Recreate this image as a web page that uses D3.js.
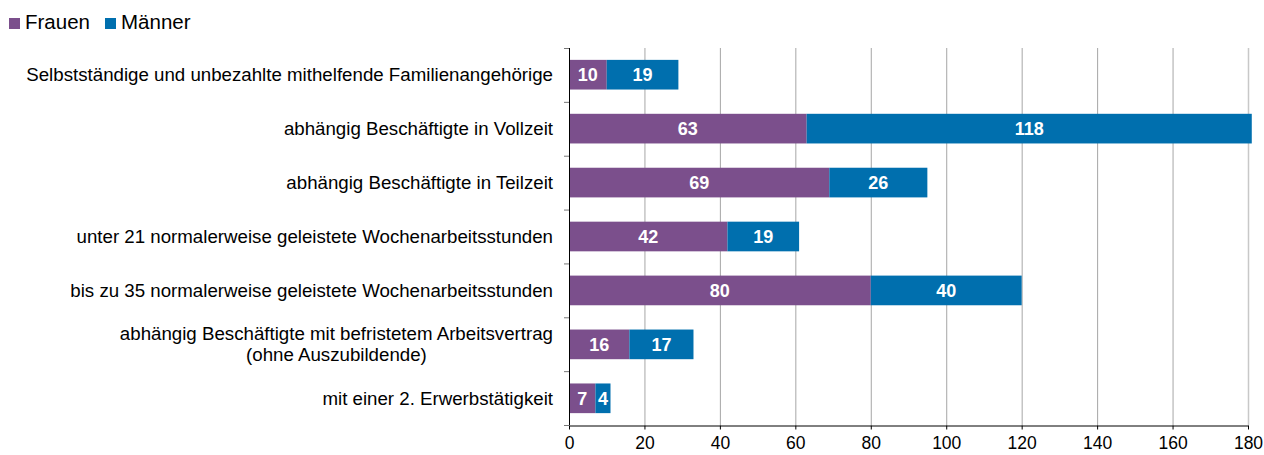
<!DOCTYPE html>
<html>
<head>
<meta charset="utf-8">
<script src="https://cdn.jsdelivr.net/npm/d3@7"></script>
<style>
  body { margin: 0; background: #fff; }
  text { font-family: "Liberation Sans", Arial, sans-serif; }
</style>
</head>
<body>
<div id="chart"></div>
<script>
// data
var categories = [
  "Selbstständige und unbezahlte mithelfende Familienangehörige",
  "abhängig Beschäftigte in Vollzeit",
  "abhängig Beschäftigte in Teilzeit",
  "unter 21 normalerweise geleistete Wochenarbeitsstunden",
  "bis zu 35 normalerweise geleistete Wochenarbeitsstunden",
  "abhängig Beschäftigte mit befristetem Arbeitsvertrag\n(ohne Auszubildende)",
  "mit einer 2. Erwerbstätigkeit"
]
var frauen = [10, 63, 69, 42, 80, 16, 7]
var maenner = [19, 118, 26, 19, 40, 17, 4]
var seriesNames = ["Frauen", "Männer"]
var xTicks = [0, 20, 40, 60, 80, 100, 120, 140, 160, 180]

var width = 1264,
    height = 455
var colors = ["#7b4f8c", "#006fae"]

var svg = d3.select("#chart").append("svg")
    .attr("width", width)
    .attr("height", height)

var x = d3.scaleLinear().domain([0, 180]).range([569, 1248])
var y = d3.scaleBand().domain(categories).range([48, 425]).paddingInner(0.45).paddingOuter(0.22)

// gridlines
svg.append("g").selectAll("line")
  .data(xTicks.slice(1))
  .enter().append("line")
  .attr("x1", function(d) { return x(d) + 0.5 })
  .attr("x2", function(d) { return x(d) + 0.5 })
  .attr("y1", 48).attr("y2", 425)
  .attr("stroke", function(d) { return d == 180 ? "#c8c8c8" : "#a6a6a6" })
  .attr("stroke-width", function(d) { return d == 180 ? 1.5 : 1 })

// stacked data
var rows = categories.map(function(c, i) {
  return { cat: c, Frauen: frauen[i], "Männer": maenner[i] }
})
var stack = d3.stack().keys(seriesNames)(rows)

var layers = svg.append("g").selectAll("g")
  .data(stack)
  .enter().append("g")
  .attr("fill", function(d, i) { return colors[i] })

layers.selectAll("rect")
  .data(function(d) { return d })
  .enter().append("rect")
  .attr("x", function(d) { return x(d[0]) })
  .attr("width", function(d) { return x(d[1]) - x(d[0]) })
  .attr("y", function(d) { return y(d.data.cat) })
  .attr("height", y.bandwidth())

// value labels
layers.selectAll("text")
  .data(function(d) { return d })
  .enter().append("text")
  .attr("x", function(d) { return (x(d[0]) + x(d[1])) / 2 })
  .attr("y", function(d) { return y(d.data.cat) + y.bandwidth() / 2 })
  .attr("dy", "0.36em")
  .attr("text-anchor", "middle")
  .attr("fill", "#fff")
  .attr("font-weight", "bold")
  .attr("font-size", "18px")
  .text(function(d) { return d[1] - d[0] })

// y axis
var yTop = 48
svg.append("line")
  .attr("x1", 569.5).attr("x2", 569.5)
  .attr("y1", yTop).attr("y2", 425)
  .attr("stroke", "#000")
svg.append("g").selectAll("line")
  .data(d3.range(categories.length + 1))
  .enter().append("line")
  .attr("x1", 564).attr("x2", 569)
  .attr("y1", function(i) { return yTop + i * (377 / categories.length) + 0.5 })
  .attr("y2", function(i) { return yTop + i * (377 / categories.length) + 0.5 })
  .attr("stroke", "#777")

// category labels
var labels = svg.append("g").selectAll("text")
  .data(categories)
  .enter().append("text")
  .attr("font-size", "18.7px")
  .attr("fill", "#000")
  .attr("text-anchor", "end")
  .attr("y", function(d) { return y(d) + y.bandwidth() / 2 })
labels.each(function(d) {
  var lines = d.split("\n")
  var t = d3.select(this)
  if (lines.length == 1) {
    t.attr("x", 553).attr("dy", "0.36em").text(d)
  } else {
    var first = t.append("tspan").text(lines[0]).attr("x", 553).attr("dy", "-0.22em")
    var w = first.node().getComputedTextLength()
    t.attr("text-anchor", "middle")
    first.attr("x", 553 - w / 2)
    t.append("tspan").text(lines[1]).attr("x", 553 - w / 2).attr("dy", "1.1em")
  }
})

// x axis
var xAxis = svg.append("g")
  .attr("transform", "translate(0,425.5)")
  .call(d3.axisBottom(x).tickValues(xTicks).tickSize(4).tickSizeOuter(0))
xAxis.select(".domain").attr("stroke", "#000")
xAxis.selectAll(".tick line").attr("stroke", "#000")
xAxis.selectAll(".tick text")
  .attr("font-size", "17.5px")
  .attr("font-family", "Liberation Sans, Arial, sans-serif")
  .attr("fill", "#000")
  .attr("dy", "0.95em")

// legend
var legend = svg.append("g").selectAll("g")
  .data(seriesNames)
  .enter().append("g")
  .attr("transform", function(d, i) { return "translate(" + [9, 105][i] + ",0)" })
legend.append("rect")
  .attr("y", 18).attr("width", 11).attr("height", 11)
  .attr("fill", function(d, i) { return colors[i] })
legend.append("text")
  .attr("x", 16).attr("y", 29)
  .attr("font-size", "20.5px")
  .attr("fill", "#000")
  .text(function(d) { return d })
</script>
</body>
</html>
